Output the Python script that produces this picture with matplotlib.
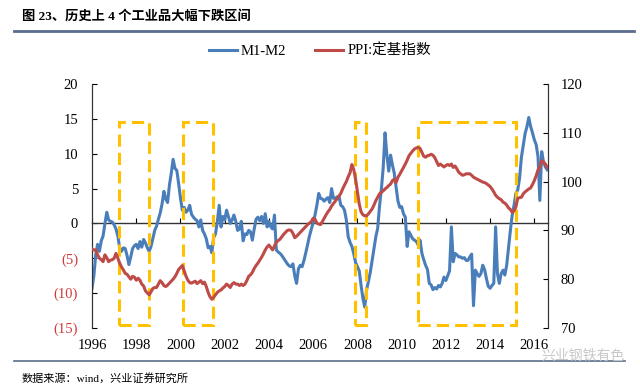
import numpy as np
import matplotlib
matplotlib.use("Agg")
from matplotlib import pyplot as plt
from matplotlib.lines import Line2D
from matplotlib.patches import Rectangle

# M1-M2 (left axis), monthly from Jan 1996
m1_m2 = [
    -9.3, -7.5, -4.5, -3.0, -4.0, -2.5, -1.8, 0.0, 1.6, 0.5, 0.3, 0.2,        # 1996
    -0.2, -0.8, -1.8, -3.5, -4.0, -3.5, -3.6, -4.6, -5.9, -4.8, -3.6, -3.2,   # 1997
    -3.0, -3.6, -2.6, -3.4, -2.3, -2.8, -3.5, -4.0, -3.3, -2.2, -1.0, -0.4,   # 1998
    0.6, 1.5, 2.8, 4.6, 3.5, 3.0, 5.5, 7.2, 9.2, 7.9, 7.6, 5.7,              # 1999
    3.6, 1.9, 2.3, 1.6, 1.9, 2.6, 1.3, 0.9, 0.6, 0.4, -0.5, 0.5,             # 2000
    -1.0, -1.5, -2.2, -3.5, -3.3, -4.2, -2.0, -1.5, 0.3, 2.6, -0.5, 1.0,     # 2001
    0.5, 1.9, 1.0, 0.0, 0.5, 1.2, 0.3, -1.0, -0.8, 0.3, -2.5, -1.5,          # 2002
    -1.6, -1.0, -1.2, -2.4, -0.8, 0.6, 0.9, 0.4, 1.0, 0.0, 1.4, -0.5,        # 2003
    0.3, -0.5, -0.8, 1.2, -3.8, -4.1, -4.3, -4.6, -5.0, -5.4, -5.8, -6.1,    # 2004
    -6.2, -5.8, -7.5, -8.6, -6.5, -6.0, -6.2, -5.3, -4.2, -3.0, -1.8, -0.8,  # 2005
    0.1, 1.2, 2.6, 4.3, 3.6, 3.5, 3.2, 3.5, 3.7, 3.0, 5.0, 3.6,              # 2006
    3.6, 3.8, 3.9, 2.6, 2.4, 1.9, 0.5, -1.9, -2.7, -3.3, -4.3, -5.6,         # 2007
    -6.2, -6.8, -8.9, -10.8, -12.0, -9.5, -8.3, -7.0, -5.3, -3.5, -1.9, -0.7,  # 2008
    2.5, 4.9, 8.0, 13.0, 9.8, 7.5, 9.8, 8.4, 7.2, 5.2, 3.2, 2.3,             # 2009
    2.4, 1.4, 0.9, -3.3, -1.2, -1.7, -2.2, -2.4, -2.6, -3.1, -2.4, -4.3,     # 2010
    -5.2, -6.0, -6.6, -8.6, -8.8, -9.5, -9.2, -9.4, -8.9, -9.1, -8.6, -7.7,  # 2011
    -8.2, -7.5, -6.8, -0.5, -5.5, -4.3, -4.5, -4.8, -4.8, -5.0, -4.9, -5.3,  # 2012
    -5.3, -4.8, -4.4, -11.8, -6.7, -7.2, -7.6, -7.2, -6.0, -6.6, -7.9, -9.0,  # 2013
    -9.3, -8.9, -8.6, -0.5, -7.2, -8.6, -7.2, -6.7, -7.4, -6.0, -3.5, -1.0,  # 2014
    1.2, 2.6, 4.3, 4.8, 6.5, 9.5, 11.2, 12.9, 13.9, 15.2, 13.9, 13.0,        # 2015
    12.0, 11.3, 9.6, 3.3, 10.3, 8.8, 8.1, 7.7,                               # 2016
]

# PPI fixed-base index (right axis), monthly from Jan 1996
ppi = [
    86.2, 86.0, 86.0, 85.0, 84.3, 84.0, 83.6, 85.0, 84.4, 83.6, 83.9, 84.0,          # 1996
    84.3, 85.3, 84.3, 83.3, 82.5, 81.9, 81.2, 81.0, 80.5, 80.0, 80.6, 80.4,          # 1997
    79.8, 80.2, 79.8, 79.0, 78.6, 77.6, 77.2, 76.8, 77.4, 78.1, 78.3, 78.3,          # 1998
    79.0, 79.7, 79.3, 78.7, 78.5, 78.8, 79.2, 79.6, 80.0, 80.5, 81.2, 82.0,          # 1999
    82.4, 82.8, 81.7, 80.6, 79.8, 79.3, 79.2, 79.4, 79.6, 79.1, 79.4, 79.7,          # 2000
    79.1, 79.4, 78.5, 77.3, 76.4, 75.9, 76.3, 76.8, 77.3, 77.6, 77.8, 78.2,          # 2001
    78.5, 79.0, 78.7, 78.3, 79.0, 79.3, 79.0, 79.0, 78.7, 79.0, 78.7, 79.0,          # 2002
    79.7, 80.6, 80.9, 81.4, 82.2, 82.8, 83.3, 83.9, 84.5, 85.2, 86.0, 86.6,          # 2003
    87.0, 86.5, 86.0, 86.8, 87.6, 87.9, 88.2, 88.7, 89.2, 89.6, 90.0, 90.1,          # 2004
    90.0, 89.4, 88.5, 88.8, 89.2, 89.6, 90.0, 90.4, 90.8, 91.2, 91.5, 91.8,          # 2005
    92.5, 92.3, 91.5, 91.3, 91.2, 91.8, 92.5, 93.2, 93.8, 94.3, 95.0, 95.5,          # 2006
    96.0, 96.5, 97.0, 97.6, 98.5, 99.3, 100.0, 101.0, 101.8, 103.5, 102.5, 100.5,    # 2007
    98.0, 95.4, 93.8, 93.2, 93.0, 93.0, 93.4, 93.9, 94.4, 95.2, 96.1, 96.8,          # 2008
    97.5, 97.8, 98.1, 98.5, 98.8, 99.2, 99.5, 100.2, 100.5, 99.8, 100.9, 101.5,      # 2009
    102.2, 102.9, 103.6, 104.4, 105.3, 105.8, 106.3, 106.7, 106.9, 107.0, 106.8, 106.0,  # 2010
    105.2, 105.0, 105.3, 105.4, 105.6, 105.4, 104.9, 104.1, 103.3, 103.6, 103.3, 103.0,  # 2011
    103.3, 103.5, 103.3, 103.6, 102.9, 103.2, 102.6, 101.9, 101.6, 101.3, 101.4, 101.6,  # 2012
    101.6, 101.6, 101.3, 100.9, 100.7, 100.5, 100.3, 100.1, 99.9, 99.8, 99.6, 99.3,  # 2013
    99.0, 98.5, 97.9, 97.2, 96.8, 96.5, 96.3, 95.8, 95.6, 95.2, 94.6, 94.3,          # 2014
    93.7, 94.0, 94.8, 96.6, 96.7, 96.8, 97.5, 97.9, 98.2, 98.5, 98.7, 99.4,          # 2015
    100.2, 101.2, 102.4, 103.0, 104.3, 104.0, 103.6, 102.9,                          # 2016
]

# the four highlighted decline periods (start, end) in years
box_start = [1997.22, 2000.10, 2007.87, 2010.74]
box_end = [1998.58, 2001.49, 2008.38, 2015.19]
box_low, box_high = -14.6, 14.6

year_ticks = list(range(1996, 2017, 2))
left_ticks = [20, 15, 10, 5, 0, -5, -10, -15]
right_ticks = [120, 110, 100, 90, 80, 70]

dates = 1996 + np.arange(len(m1_m2)) / 12.0

BLUE = '#4a7ebb'
RED = '#be4b48'
GOLD = '#ffc000'
SERIF = ['Liberation Serif', 'Noto Sans CJK SC']

fig = plt.figure(figsize=(6.4, 3.88), dpi=100)
ax = fig.add_axes([0.1438, 0.1546, 0.7125, 0.6289])
ax2 = ax.twinx()

ax.plot(dates, m1_m2, color=BLUE, lw=2.2, zorder=3)
ax2.plot(dates[:len(ppi)], ppi, color=RED, lw=2.2, zorder=3)

for x0, x1 in zip(box_start, box_end):
    ax.add_patch(Rectangle((x0, box_low), x1 - x0, box_high - box_low,
                           fill=False, edgecolor=GOLD, lw=2.2,
                           linestyle=(0, (4, 2)), zorder=6, clip_on=False))

ax.set_xlim(1996, 2016.62)
ax.set_ylim(-15, 20)
ax2.set_ylim(70, 120)

# zero line carries the year ticks, labels stay at the bottom
ax.spines['bottom'].set_position(('data', 0))
ax.spines['bottom'].set_linewidth(1.0)
ax.spines['top'].set_visible(False)
ax2.spines['top'].set_visible(False)
ax2.spines['bottom'].set_visible(False)
ax.set_xticks(year_ticks)
ax.tick_params(axis='x', direction='in', length=3.5, labelbottom=False)

sec = ax.secondary_xaxis('bottom')
sec.set_xticks(year_ticks)
sec.set_xticklabels([str(y) for y in year_ticks], fontfamily=SERIF, fontsize=10.5)
sec.tick_params(length=0, pad=8)
sec.spines['bottom'].set_visible(False)

ax.set_yticks(left_ticks)
ax.set_yticklabels([str(v) if v >= 0 else '(%d)' % -v for v in left_ticks],
                   fontfamily=SERIF, fontsize=10.5)
for lab, v in zip(ax.get_yticklabels(), left_ticks):
    if v < 0:
        lab.set_color('#d03c3c')
ax.tick_params(axis='y', direction='in', length=3.5, pad=10)

ax2.set_yticks(right_ticks)
ax2.set_yticklabels([str(v) for v in right_ticks], fontfamily=SERIF, fontsize=10.5)
ax2.tick_params(axis='y', direction='in', length=3.5, pad=9)

for a in (ax, ax2):
    for s in a.spines.values():
        s.set_color('#333333')

handles = [Line2D([], [], color=BLUE, lw=2.2), Line2D([], [], color=RED, lw=2.2)]
fig.legend(handles, ['M1-M2', 'PPI:定基指数'], loc='center',
           bbox_to_anchor=(0.5, 1 - 51 / 388), ncol=2, frameon=False,
           prop={'family': SERIF, 'size': 10.5}, handlelength=1.9,
           handletextpad=0.3, columnspacing=2.0)

fig.text(22 / 640, 1 - 16 / 388, '图 23、历史上 4 个工业品大幅下跌区间',
         fontfamily=SERIF, fontsize=9.5, fontweight='bold', va='center', ha='left')
fig.add_artist(Line2D([14 / 640, 634 / 640], [1 - 31 / 388, 1 - 31 / 388],
                      color='#5a6e8c', lw=2))
fig.add_artist(Line2D([14 / 640, 625 / 640], [1 - 361 / 388, 1 - 361 / 388],
                      color='#5a6e8c', lw=1.2))
fig.text(22 / 640, 1 - 378 / 388, '数据来源：wind，兴业证券研究所',
         fontfamily=SERIF, fontsize=8, va='center', ha='left')
fig.text(625 / 640, 1 - 356 / 388, '兴业钢铁有色', fontfamily=SERIF,
         fontsize=10, color='#c8c8c8', va='center', ha='right')

fig.savefig('out.png', dpi=100)
